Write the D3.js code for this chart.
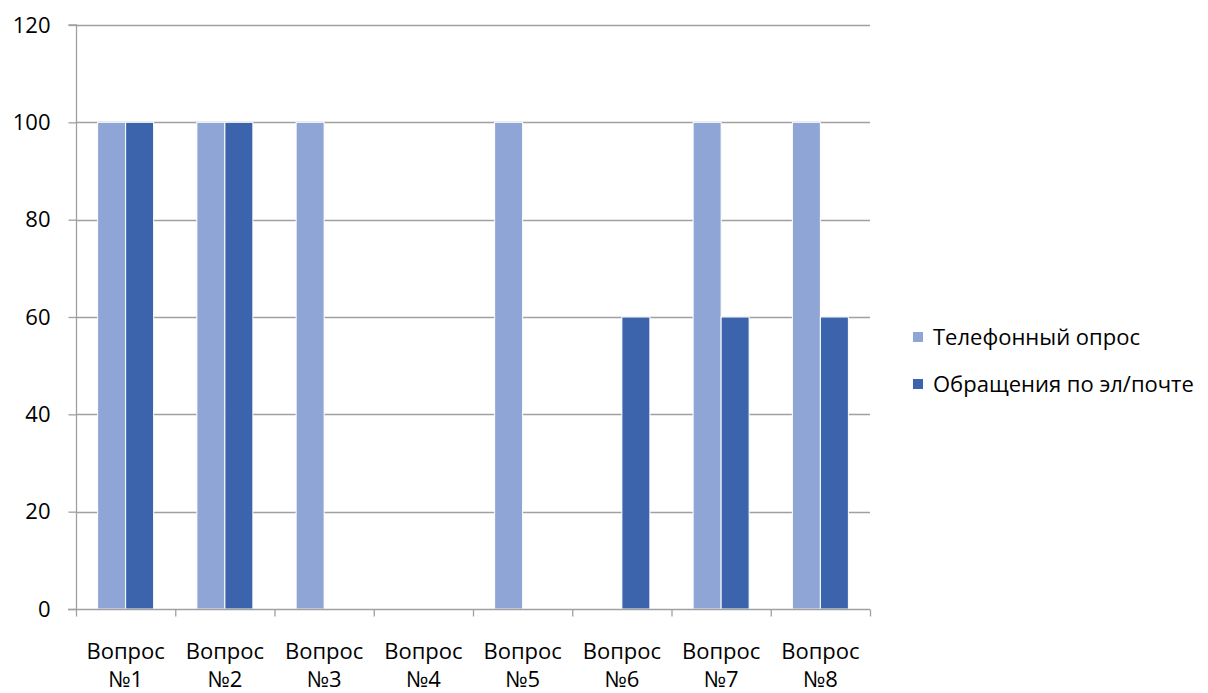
<!DOCTYPE html>
<html>
<head>
<meta charset="utf-8">
<script src="https://cdn.jsdelivr.net/npm/d3@7"></script>
<style>
  body { margin: 0; background: #fff; }
  svg text { font-family: "Open Sans", sans-serif; fill: #000; }
</style>
</head>
<body>
<svg id="chart" width="1208" height="693"></svg>
<script>
const categories = ["Вопрос №1","Вопрос №2","Вопрос №3","Вопрос №4","Вопрос №5","Вопрос №6","Вопрос №7","Вопрос №8"];
const seriesNames = ["Телефонный опрос","Обращения по эл/почте"];
const phoneValues = [100,100,100,0,100,0,100,100];
const emailValues = [100,100,0,0,0,60,60,60];
const yTicks = [0,20,40,60,80,100,120];
const colors = ["#8FA5D6","#3C64AD"];

const svg = d3.select("#chart");
const pLeft = 76, pRight = 870, pTop = 25, pBottom = 609;
const fontSize = 22;

const x = d3.scaleBand().domain(categories).range([pLeft, pRight]).padding(0);
const y = d3.scaleLinear().domain([0,120]).range([pBottom, pTop]);
const barW = 28;

// gridlines
svg.append("g").selectAll("line").data(yTicks.filter(d => d > 0)).join("line")
  .attr("x1", pLeft).attr("x2", pRight)
  .attr("y1", d => Math.round(y(d)) + 0.5).attr("y2", d => Math.round(y(d)) + 0.5)
  .attr("stroke", "#A0A0A0").attr("stroke-width", 1.3);

// bars
const series = [phoneValues, emailValues];
series.forEach((vals, si) => {
  svg.append("g").selectAll("rect").data(categories.map((c, i) => ({c, v: vals[i]})).filter(d => d.v > 0)).join("rect")
    .attr("x", d => x(d.c) + x.bandwidth()/2 - barW + si*barW)
    .attr("y", d => y(d.v))
    .attr("width", barW)
    .attr("height", d => y(0) - y(d.v))
    .attr("fill", colors[si])
    .attr("stroke", "#fff").attr("stroke-width", 1);
});

// y axis
const yAxis = svg.append("g").attr("transform", `translate(${pLeft + 0.5},0)`)
  .call(d3.axisLeft(y).tickValues(yTicks).tickSize(8).tickPadding(18).tickFormat(d3.format("d")));
yAxis.select(".domain").attr("stroke", "#A0A0A0").attr("stroke-width", 1.3).attr("d", `M-8,${pTop}H0V${pBottom}`);
yAxis.selectAll(".tick line").attr("stroke", "#A0A0A0").attr("stroke-width", 1.3);
yAxis.selectAll(".tick text").attr("font-size", fontSize).attr("font-family", "Open Sans");

// x axis
const xAxis = svg.append("g").attr("transform", `translate(0,${pBottom + 0.5})`);
xAxis.append("line").attr("x1", pLeft - 8).attr("x2", pRight).attr("stroke", "#A0A0A0").attr("stroke-width", 1.3);
const bounds = categories.map(c => x(c)).concat([pRight]);
xAxis.selectAll("line.tk").data(bounds).join("line").attr("class","tk")
  .attr("x1", d => d + 0.5).attr("x2", d => d + 0.5).attr("y1", 0).attr("y2", 7)
  .attr("stroke", "#A0A0A0").attr("stroke-width", 1.3);
const labels = xAxis.selectAll("text").data(categories).join("text")
  .attr("x", d => x(d) + x.bandwidth()/2)
  .attr("text-anchor", "middle").attr("font-size", fontSize);
labels.append("tspan").attr("x", d => x(d) + x.bandwidth()/2).attr("y", 49.5).text(d => d.split(" ")[0]);
labels.append("tspan").attr("x", d => x(d) + x.bandwidth()/2).attr("y", 77).text(d => d.split(" ")[1]);

// legend
const legend = svg.append("g").attr("transform", "translate(913,0)");
seriesNames.forEach((name, i) => {
  const cy = 337 + i*47;
  legend.append("rect").attr("x", 0).attr("y", cy - 5).attr("width", 10).attr("height", 10).attr("fill", colors[i]);
  legend.append("text").attr("x", 20).attr("y", cy).attr("dy", "0.35em").attr("font-size", fontSize).text(name);
});
</script>
</body>
</html>
